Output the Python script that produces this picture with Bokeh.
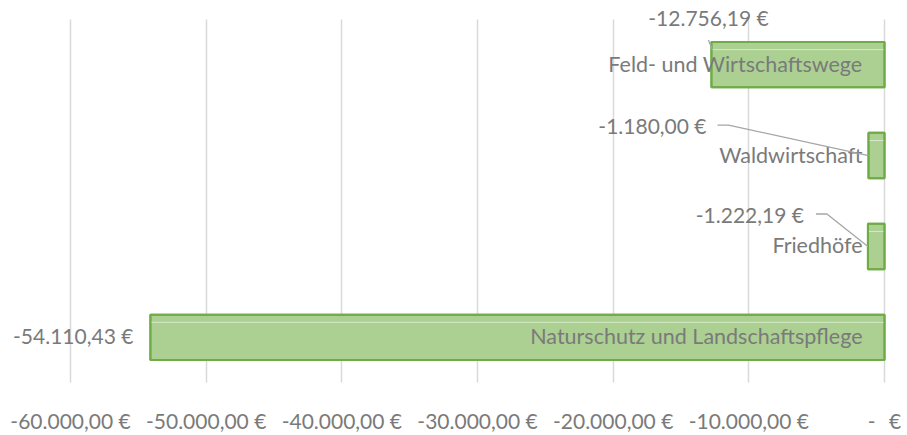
from bokeh.plotting import figure
from bokeh.models import Range1d, FactorRange, FixedTicker, ColumnDataSource
from bokeh.core.properties import value
from bokeh.embed import file_html
from bokeh.resources import INLINE

# ---- data ----
categories = ["Feld- und Wirtschaftswege", "Waldwirtschaft", "Friedhöfe",
              "Naturschutz und Landschaftspflege"]
amounts = [-12756.19, -1180.00, -1222.19, -54110.43]
value_labels = ["-12.756,19 €", "-1.180,00 €", "-1.222,19 €", "-54.110,43 €"]
tick_values = [-60000, -50000, -40000, -30000, -20000, -10000, 0]
tick_labels = ["-60.000,00 €", "-50.000,00 €", "-40.000,00 €", "-30.000,00 €",
               "-20.000,00 €", "-10.000,00 €", "-\u00a0\u00a0\u2009€"]

# ---- layout / style ----
FONT = "Lato"
TXT = "#7a7a7a"
FS = "21px"
W, H = 907, 435
PL, PR, PT, PB = 70, 23, 19, 46          # inner plot-area margins (px)
inner_w = W - PL - PR
inner_h = H - PT - PB
px_x = (tick_values[-1] - tick_values[0]) / inner_w   # data units per px
unit_px = inner_h / len(categories)                    # px per category
px_y = 1.0 / unit_px
pad_units = PT / unit_px                               # extra room above / below

p = figure(width=W, height=H, output_backend="svg", toolbar_location=None,
           x_range=Range1d(tick_values[0] - PL * px_x, tick_values[-1] + PR * px_x),
           y_range=FactorRange(factors=categories[::-1],
                               range_padding=2 * pad_units / len(categories),
                               factor_padding=0),
           min_border_left=0, min_border_right=0, min_border_top=0,
           min_border_bottom=PB - PT)
p.outline_line_color = None
p.background_fill_color = "white"
p.border_fill_color = "white"

# value-label screen offsets relative to the bar end (style only)
dx = [-3, -162, -64, -17]
dy = [-47, -30, -32, -2]
aligns = ["center", "right", "right", "right"]

src = ColumnDataSource(dict(cat=categories, amt=amounts, lab=value_labels,
                            zero=[0] * len(categories),
                            hl=[(c, 0.165) for c in categories],
                            dx=dx, dy=dy, al=aligns))

p.hbar(y="cat", left="amt", right="zero", height=0.5, source=src,
       fill_color="#abd092", line_color="#6fac46", line_width=2)
# subtle highlight line near the top of each bar
p.segment(x0="amt", x1="zero", y0="hl", y1="hl", source=src,
          line_color="#d6e9c9", line_width=1)
p.hbar(y="cat", left="amt", right="zero", height=0.5, source=src,
       fill_color=None, line_color="#6fac46", line_width=2)

# axes
p.yaxis.visible = False
p.xaxis.ticker = FixedTicker(ticks=tick_values)
p.xaxis.major_label_overrides = {v: l for v, l in zip(tick_values, tick_labels)}
p.xaxis.axis_line_color = None
p.xaxis.major_tick_line_color = None
p.xaxis.minor_tick_line_color = None
p.xaxis.major_label_standoff = 0
p.xaxis.major_label_text_font = FONT
p.xaxis.major_label_text_font_size = FS
p.xaxis.major_label_text_color = TXT
p.xgrid.grid_line_color = "#d9d9d9"
p.xgrid.grid_line_width = 1.5
p.xgrid.cross_bounds = (0, len(categories))
p.ygrid.grid_line_color = None

# category names inside the bars (right-aligned near zero)
p.text(x="zero", y="cat", text="cat", source=src, x_offset=-22, y_offset=-1,
       text_align="right", text_baseline="middle", text_font=value(FONT),
       text_font_size="21.5px", text_color=TXT)

# value labels
p.text(x="amt", y="cat", text="lab", source=src, x_offset="dx", y_offset="dy",
       text_align="al", text_baseline="middle", text_font=value(FONT),
       text_font_size=FS, text_color=TXT)

# leader lines (pixel offsets converted to data units)
leaders = {
    0: [(-3, -25), (1, -15)],
    1: [(-151, -31), (-140, -31), (0, 0)],
    2: [(-52, -33), (-41, -33), (0, 0)],
}
xs, ys = [], []
for i, pts in leaders.items():
    xs.append([amounts[i] + ox * px_x for ox, oy in pts])
    ys.append([(categories[i], -oy * px_y) for ox, oy in pts])
p.multi_line(xs=xs, ys=ys, line_color="#a6a6a6", line_width=1.3)

open("out.html", "w").write(file_html(p, INLINE))
